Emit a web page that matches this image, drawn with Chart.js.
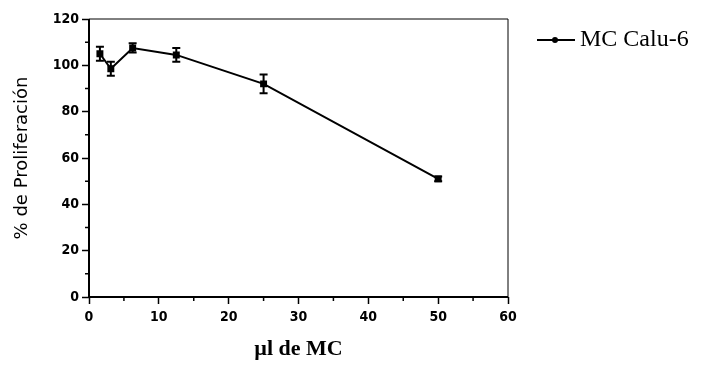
<!DOCTYPE html>
<html>
<head>
<meta charset="utf-8">
<script src="https://cdn.jsdelivr.net/npm/chart.js@4"></script>
<style>
  html, body { margin: 0; padding: 0; background: #fff; }
  #wrap { width: 701px; height: 367px; }
</style>
</head>
<body>
<div id="wrap"><canvas id="grafico"></canvas></div>
<script>
// Datos
const dosis = [1.5625, 3.125, 6.25, 12.5, 25, 50];          // µl de MC
const proliferacion = [105, 98.5, 107.5, 104.5, 92, 51];    // % de proliferación
const errores = [3, 3, 2, 3, 4, 1];                          // barra de error (±)
const nombreSerie = 'MC Calu-6';

const puntos = dosis.map((x, i) => ({ x: x, y: proliferacion[i] }));

// Barras de error, ticks menores, marco y leyenda
const extras = {
    id: 'extras',
    afterDatasetsDraw(chart) {
        const c = chart.ctx;
        const xs = chart.scales.x, ys = chart.scales.y;
        c.save();
        c.strokeStyle = '#000';
        c.lineWidth = 2;
        dosis.forEach((d, i) => {
            const px = xs.getPixelForValue(d);
            const top = ys.getPixelForValue(proliferacion[i] + errores[i]);
            const bot = ys.getPixelForValue(proliferacion[i] - errores[i]);
            c.beginPath();
            c.moveTo(px, top); c.lineTo(px, bot);
            c.moveTo(px - 4, top); c.lineTo(px + 4, top);
            c.moveTo(px - 4, bot); c.lineTo(px + 4, bot);
            c.stroke();
        });
        c.restore();
    },
    afterDraw(chart) {
        const c = chart.ctx;
        const a = chart.chartArea;
        const xs = chart.scales.x, ys = chart.scales.y;
        c.save();
        c.strokeStyle = '#000';
        // marco superior y derecho
        c.lineWidth = 1;
        c.beginPath();
        c.moveTo(a.left, a.top); c.lineTo(a.right, a.top); c.lineTo(a.right, a.bottom);
        c.stroke();
        // ejes izquierdo e inferior
        c.lineWidth = 2;
        c.beginPath();
        c.moveTo(a.left, a.top); c.lineTo(a.left, a.bottom); c.lineTo(a.right, a.bottom);
        c.stroke();
        // ticks menores
        c.lineWidth = 1.5;
        c.beginPath();
        for (let v = 10; v < 120; v += 20) {
            const py = ys.getPixelForValue(v);
            c.moveTo(a.left, py); c.lineTo(a.left - 4, py);
        }
        for (let v = 5; v < 60; v += 10) {
            const px = xs.getPixelForValue(v);
            c.moveTo(px, a.bottom); c.lineTo(px, a.bottom + 4);
        }
        c.stroke();
        // leyenda
        const ly = 40;
        c.lineWidth = 2;
        c.beginPath();
        c.moveTo(537, ly); c.lineTo(575, ly);
        c.stroke();
        c.fillStyle = '#000';
        c.beginPath();
        c.arc(555, ly, 3, 0, Math.PI * 2);
        c.fill();
        c.font = '24px "Liberation Serif", "DejaVu Serif", serif';
        c.textBaseline = 'middle';
        c.fillText(nombreSerie, 580, ly);
        c.restore();
    }
};

const tickFont = { family: '"DejaVu Sans Condensed", "DejaVu Sans", sans-serif', size: 14, weight: 'bold' };

new Chart(document.getElementById('grafico'), {
    type: 'line',
    data: {
        datasets: [{
            label: nombreSerie,
            data: puntos,
            borderColor: '#000',
            backgroundColor: '#000',
            borderWidth: 2,
            tension: 0,
            pointStyle: 'rect',
            pointRadius: 3.5,
            pointBackgroundColor: '#000',
            pointBorderColor: '#000'
        }]
    },
    options: {
        responsive: true,
        maintainAspectRatio: false,
        animation: false,
        layout: { padding: { top: 19, right: 193, left: 0, bottom: 0 } },
        plugins: {
            legend: { display: false },
            tooltip: { enabled: false }
        },
        scales: {
            x: {
                type: 'linear',
                min: 0,
                max: 60,
                afterFit: function (scale) { scale.height = 70; },
                ticks: { stepSize: 10, color: '#000', font: tickFont, padding: 5 },
                grid: { drawOnChartArea: false, tickLength: 7, tickWidth: 1.5, tickColor: '#000' },
                border: { display: false },
                title: {
                    display: true,
                    text: 'µl de MC',
                    color: '#000',
                    font: { family: '"Liberation Serif", "DejaVu Serif", serif', size: 22, weight: 'bold' },
                    padding: { top: 0, bottom: 4 }
                }
            },
            y: {
                min: 0,
                max: 120,
                afterFit: function (scale) { scale.width = 89; },
                ticks: { stepSize: 20, color: '#000', font: tickFont, padding: 3 },
                grid: { drawOnChartArea: false, tickLength: 7, tickWidth: 1.5, tickColor: '#000' },
                border: { display: false },
                title: {
                    display: true,
                    text: '% de Proliferación',
                    color: '#000',
                    font: { family: '"DejaVu Sans", sans-serif', size: 18 },
                    padding: { top: 12, bottom: 0 }
                }
            }
        }
    },
    plugins: [extras]
});
</script>
</body>
</html>
